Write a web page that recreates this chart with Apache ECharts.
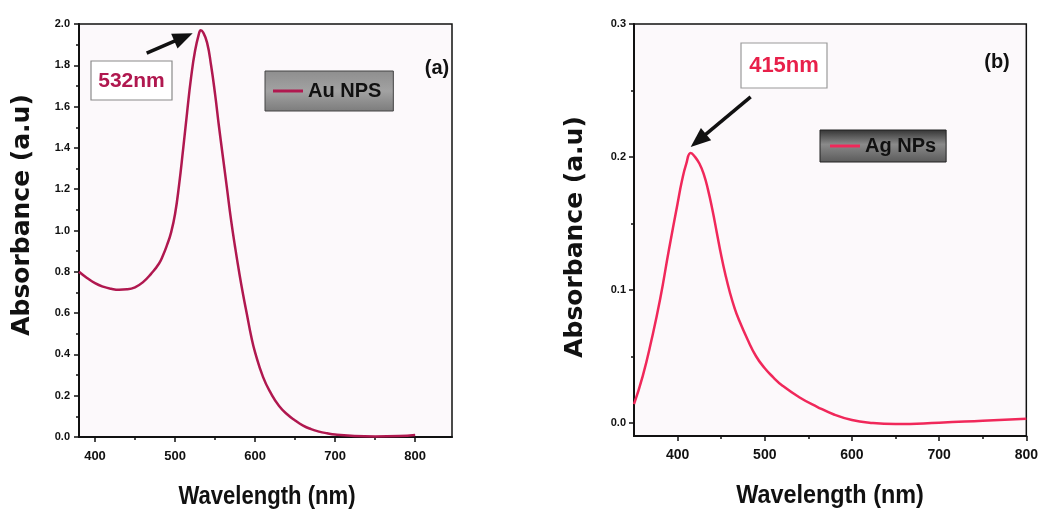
<!DOCTYPE html>
<html>
<head>
<meta charset="utf-8">
<script src="https://cdn.jsdelivr.net/npm/echarts@6/dist/echarts.min.js"></script>
<style>html,body{margin:0;padding:0;background:#fff;}#c{width:1041px;height:512px;}</style>
</head>
<body>
<div id="c"></div>
<script>
// ---- Data ----
const auWavelength = [380,390,400,410,420,430,440,450,460,470,480,485,490,495,500,505,510,515,520,525,530,532,535,540,545,550,555,560,565,570,575,580,585,590,595,600,610,620,630,640,650,660,670,680,690,700,720,750,780,800];
const auAbsorbance = [0.80,0.77,0.745,0.728,0.718,0.713,0.715,0.725,0.75,0.79,0.84,0.88,0.93,0.99,1.08,1.22,1.39,1.57,1.74,1.87,1.955,1.97,1.96,1.91,1.80,1.66,1.50,1.35,1.20,1.05,0.92,0.80,0.69,0.59,0.49,0.41,0.29,0.21,0.15,0.11,0.08,0.055,0.038,0.026,0.018,0.012,0.006,0.003,0.005,0.01];
const agWavelength = [350,360,370,380,390,400,405,410,415,420,425,430,435,440,445,450,455,460,465,470,480,490,500,510,520,540,560,580,600,620,650,700,750,800];
const agAbsorbance = [0.014,0.035,0.062,0.093,0.130,0.165,0.182,0.195,0.203,0.200,0.195,0.187,0.175,0.160,0.143,0.126,0.111,0.098,0.087,0.078,0.063,0.050,0.041,0.034,0.028,0.019,0.012,0.006,0.002,0.000,-0.001,0.000,0.0015,0.003];
const auXTicks = [400,500,600,700,800];
const auXMinor = [450,550,650,750];
const agXTicks = [400,500,600,700,800];
const agXMinor = [450,550,650,750];
const agYTicks = [0.0,0.1,0.2,0.3];
const agYMinor = [0.05,0.15,0.25];
const auPeak = [532, 1.97];
const agPeak = [415, 0.203];
const auLabel = '532nm';
const agLabel = '415nm';
const xTitle = 'Wavelength (nm)';
const yTitle = 'Absorbance (a.u)';

const toPairs = (xs, ys) => xs.map((x, i) => [x, ys[i]]);
const auColor = '#b0184f';
const agColor = '#f0285a';
const sans = '"Liberation Sans", Arial, sans-serif';
const wide = '"DejaVu Sans", "Liberation Sans", sans-serif';

const chart = echarts.init(document.getElementById('c'), null, {renderer: 'canvas'});

const tickStyle = {color: '#111', width: 1.5};
function valAxis(opts) {
  return Object.assign({
    type: 'value',
    splitLine: {show: false},
    axisLine: {show: true, onZero: false, lineStyle: {color: '#111', width: 2}},
    axisTick: {show: true, inside: false, length: 5, lineStyle: tickStyle},
  }, opts);
}
function minorAxis(opts) {
  return Object.assign({
    type: 'value',
    splitLine: {show: false},
    axisLine: {show: false, onZero: false},
    axisLabel: {show: false},
  }, opts);
}

const option = {
  animation: false,
  backgroundColor: '#ffffff',
  grid: [
    {left: 79, top: 24, width: 373, height: 413, show: true, borderColor: '#111', borderWidth: 1.5, backgroundColor: '#fcf9fb'},
    {left: 634, top: 24, width: 393, height: 412, show: true, borderColor: '#111', borderWidth: 1.5, backgroundColor: '#fcf9fb'}
  ],
  xAxis: [
    valAxis({gridIndex: 0, min: 380, max: 846, position: 'bottom',
      axisTick: {show: true, length: 5, customValues: auXTicks, lineStyle: tickStyle},
      axisLabel: {customValues: auXTicks, margin: 13, fontFamily: sans, fontWeight: 'bold', fontSize: 13, color: '#111'}}),
    valAxis({gridIndex: 1, min: 350, max: 800, position: 'bottom',
      axisTick: {show: true, length: 5, customValues: agXTicks, lineStyle: tickStyle},
      axisLabel: {customValues: agXTicks, margin: 12, fontFamily: sans, fontWeight: 'bold', fontSize: 14, color: '#111'}}),
    minorAxis({gridIndex: 0, min: 380, max: 846, position: 'bottom', axisTick: {show: true, length: 3, customValues: auXMinor, lineStyle: tickStyle}}),
    minorAxis({gridIndex: 1, min: 350, max: 800, position: 'bottom', axisTick: {show: true, length: 3, customValues: agXMinor, lineStyle: tickStyle}})
  ],
  yAxis: [
    valAxis({gridIndex: 0, min: 0, max: 2.0, interval: 0.2, position: 'left',
      minorTick: {show: true, splitNumber: 2, length: 3, lineStyle: tickStyle},
      axisLabel: {margin: 9, fontFamily: sans, fontWeight: 'bold', fontSize: 11, color: '#111',
        formatter: v => v.toFixed(1)}}),
    valAxis({gridIndex: 1, min: -0.01, max: 0.3, position: 'left',
      axisTick: {show: true, length: 5, customValues: agYTicks, lineStyle: tickStyle},
      axisLabel: {customValues: agYTicks, margin: 8, fontFamily: sans, fontWeight: 'bold', fontSize: 11, color: '#111',
        formatter: v => v.toFixed(1)}}),
    minorAxis({gridIndex: 1, min: -0.01, max: 0.3, position: 'left', axisTick: {show: true, length: 3, customValues: agYMinor, lineStyle: tickStyle}})
  ],
  legend: [
    {data: ['Au NPS'], left: 265, top: 71, padding: [10, 12, 10, 8], itemWidth: 30, itemHeight: 3, icon: 'rect', itemGap: 0,
      backgroundColor: {type: 'linear', x: 0, y: 0, x2: 0, y2: 1, colorStops: [{offset: 0, color: '#8e8e8e'}, {offset: 0.5, color: '#a2a2a2'}, {offset: 1, color: '#7c7c7c'}]},
      borderColor: '#444', borderWidth: 1,
      textStyle: {fontFamily: sans, fontWeight: 'bold', fontSize: 20, color: '#111'}},
    {data: ['Ag NPs'], left: 820, top: 130, padding: [6, 10, 6, 10], itemWidth: 30, itemHeight: 3, icon: 'rect', itemGap: 0,
      backgroundColor: {type: 'linear', x: 0, y: 0, x2: 0, y2: 1, colorStops: [{offset: 0, color: '#333333'}, {offset: 0.45, color: '#8a8a8a'}, {offset: 1, color: '#5a5a5a'}]},
      borderColor: '#222', borderWidth: 1,
      textStyle: {fontFamily: sans, fontWeight: 'bold', fontSize: 20, color: '#111'}}
  ],
  series: [
    {name: 'Au NPS', type: 'line', xAxisIndex: 0, yAxisIndex: 0, data: toPairs(auWavelength, auAbsorbance),
      smooth: true, showSymbol: false, color: auColor, lineStyle: {color: auColor, width: 2.5}},
    {name: 'Ag NPs', type: 'line', xAxisIndex: 1, yAxisIndex: 1, data: toPairs(agWavelength, agAbsorbance),
      smooth: true, showSymbol: false, color: agColor, lineStyle: {color: agColor, width: 2.5}}
  ]
};
chart.setOption(option);

function arrow(tail, tip, headLen, headW) {
  const dx = tip[0] - tail[0], dy = tip[1] - tail[1];
  const L = Math.hypot(dx, dy), ux = dx / L, uy = dy / L;
  const bx = tip[0] - ux * headLen, by = tip[1] - uy * headLen;
  const px = -uy * headW / 2, py = ux * headW / 2;
  return [
    {type: 'line', shape: {x1: tail[0], y1: tail[1], x2: bx + ux * 2, y2: by + uy * 2}, style: {stroke: '#111', lineWidth: 3.5}},
    {type: 'polygon', shape: {points: [[tip[0], tip[1]], [bx + px, by + py], [bx - px, by - py]]}, style: {fill: '#111'}}
  ];
}

const pA = chart.convertToPixel({seriesIndex: 0}, auPeak);
const pB = chart.convertToPixel({seriesIndex: 1}, agPeak);
const tipA = [pA[0] - 8, pA[1] + 3];
const tailA = [tipA[0] - 46, tipA[1] + 20];
const tipB = [pB[0], pB[1] - 6];
const tailB = [tipB[0] + 60, tipB[1] - 50];

const titleFont = 'bold 26px ' + sans;
const yTitleFont = 'bold 25px ' + wide;
const graphics = [].concat(
  arrow(tailA, tipA, 20, 16),
  arrow(tailB, tipB, 20, 16),
  [
    {type: 'rect', shape: {x: 91, y: 61, width: 81, height: 39}, style: {fill: '#ffffff', stroke: '#8a8a8a', lineWidth: 1.2}},
    {type: 'text', x: 131.5, y: 81, style: {text: auLabel, fill: auColor, font: 'bold 21px ' + sans, textAlign: 'center', textVerticalAlign: 'middle'}},
    {type: 'rect', shape: {x: 741, y: 43, width: 86, height: 45}, style: {fill: '#ffffff', stroke: '#9a9a9a', lineWidth: 1.2}},
    {type: 'text', x: 784, y: 66, style: {text: agLabel, fill: '#e8204a', font: 'bold 22px ' + sans, textAlign: 'center', textVerticalAlign: 'middle'}},
    {type: 'text', x: 437, y: 68, style: {text: '(a)', fill: '#111', font: 'bold 20px ' + sans, textAlign: 'center', textVerticalAlign: 'middle'}},
    {type: 'text', x: 997, y: 62, style: {text: '(b)', fill: '#111', font: 'bold 20px ' + sans, textAlign: 'center', textVerticalAlign: 'middle'}},
    {type: 'text', x: 267, y: 497, scaleX: 0.85, style: {text: xTitle, fill: '#111', font: titleFont, textAlign: 'center', textVerticalAlign: 'middle'}},
    {type: 'text', x: 830, y: 496, scaleX: 0.9, style: {text: xTitle, fill: '#111', font: titleFont, textAlign: 'center', textVerticalAlign: 'middle'}},
    {type: 'text', x: 22, y: 215, rotation: Math.PI / 2, style: {text: yTitle, fill: '#111', font: yTitleFont, textAlign: 'center', textVerticalAlign: 'middle'}},
    {type: 'text', x: 575, y: 237, rotation: Math.PI / 2, style: {text: yTitle, fill: '#111', font: yTitleFont, textAlign: 'center', textVerticalAlign: 'middle'}}
  ]
);
chart.setOption({graphic: graphics});
</script>
</body>
</html>
